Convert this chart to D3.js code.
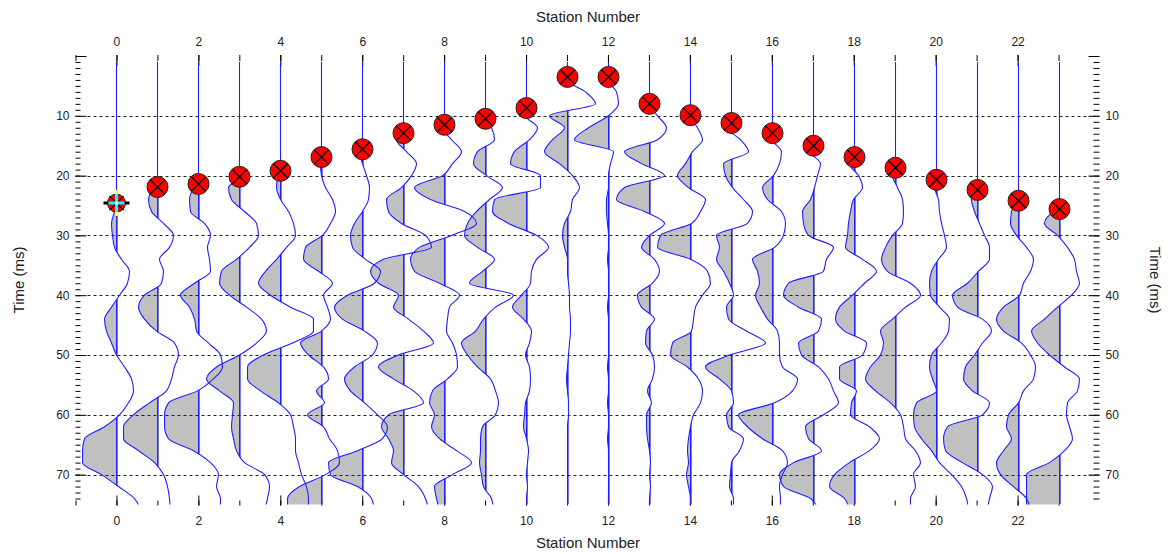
<!DOCTYPE html>
<html>
<head>
<meta charset="utf-8">
<script src="https://cdn.jsdelivr.net/npm/d3@7/dist/d3.min.js"></script>
<style>
  body { margin: 0; background: #fff; }
  text { font-family: "Liberation Sans", Arial, sans-serif; fill: #222; }
</style>
</head>
<body>
<div class="chart"></div>
<script>
// 台站编号, 初至拾取时间 (ms)
const stations = [0, 1, 2, 3, 4, 5, 6, 7, 8, 9, 10, 11, 12, 13, 14, 15, 16, 17, 18, 19, 20, 21, 22, 23]
const pickTimes = [24.6, 21.9, 21.4, 20.2, 19.2, 16.9, 15.6, 12.9, 11.5, 10.5, 8.7, 3.5,
  3.5, 8.0, 9.9, 11.2, 12.9, 15.0, 16.9, 18.7, 20.7, 22.4, 24.2, 25.6]
const activePick = 0

// 每道振幅, 从拾取后第一个偶数毫秒开始, 每 2 ms 一个样点 (±34 为削波)
const traceAmps = [
  [-2, -5, -4, -2, 5, 13, 11, 3, -5, -12, -10, -5, 0, 8, 15, 17, 12, 3, -12, -32, -34, -34, -15, 2, 18, 24],
  [-1, -9, -6, 6, 16, 12, 2, 6, 4, -13, -19, -13, -1, 17, 21, 17, 14, 9, -8, -24, -34, -34, -19, -3, 6, 10, 12, 13],
  [-4, -9, -8, 6, 12, 9, 11, 12, -4, -18, -9, -4, -2, 10, 22, 24, 15, -1, -30, -34, -34, -30, -5, 12, 20, 18, 22, 22],
  [-11, -8, 5, 17, 19, 10, -3, -18, -20, -10, 7, 22, 27, 17, 0, -23, -33, -20, -6, -7, -8, -6, -3, 5, 25, 30, 28, 25],
  [-2, -4, 0, 8, 13, 15, 6, -4, -15, -22, -10, 10, 33, 33, 12, -17, -33, -33, -20, -2, 10, 13, 15, 15, 18, 21, 26, 28, 28],
  [-1, 0, 4, 11, 14, 9, 1, -16, -18, -3, 11, 2, 6, 9, 0, -21, -13, 2, 7, -5, 3, -14, 2, 8, 16, 18, 4, -22, -34, -34],
  [-3, 0, 4, 7, 6, 0, -8, -12, -10, 3, 18, 12, -15, -28, -20, 2, 15, 10, -8, -18, -12, 2, 15, 25, 20, -5, -34, -32, -5, 9, 12],
  [-7, 3, 13, 8, -2, -17, -15, -2, 22, 28, -20, -33, -25, -5, -10, 5, 20, 30, -5, -25, -10, 10, 20, -15, -22, -15, -10, -12, 0, 15, 22, 25],
  [-2, 7, 17, 8, -2, -30, -14, 20, 32, 7, -25, -34, -30, -5, 15, 5, 3, 2, 8, 12, 13, 3, -12, -15, -10, -13, -5, 12, 27, 8, -10, -8, -5],
  [6, 9, -8, -12, 1, 17, 4, -9, -18, -21, -8, 9, -3, -16, 28, 10, -2, -10, -24, -18, -8, 5, 10, 13, 10, -3, -5, -5, -6, -4, -2, 6, 8],
  [-1, 11, 3, -12, -16, 14, 14, -32, -34, -18, 10, 22, 10, 5, 4, -5, -14, -3, 5, 3, -1, 3, 4, 3, -1, -2, -3, 0, 2, 1, 0, 1, 0, 0],
  [0, 18, 28, -18, -3, -15, -23, -8, 5, 12, 5, 3, -3, -5, -3, 0, 0, 1, 2, 2, 3, 3, 2, 1, 0, -1, 0, 1, 1, 0, 0, 0, 0, 0, 0, 0, 0],
  [0, 8, 10, 0, -20, -34, 5, 2, 0, 0, -2, -2, -1, 0, 0, -1, 0, 0, 0, -1, 0, 0, 0, 0, -1, 0, 0, -1, 0, 0, -1, 0, 0, 0, 0, 0, 0],
  [8, 17, 8, -25, -8, 15, -25, -33, -5, 15, 0, -8, 5, 10, 3, -12, -8, 5, -3, -4, 3, 5, 3, -2, 2, -3, -3, -2, 0, 1, 0, 1, 0, 0],
  [0, 7, 12, 2, -5, -13, -2, 15, 10, 1, -30, -33, 0, 17, 20, 12, 5, 3, 1, -18, -20, -3, 8, 12, 10, 3, 0, -2, -3, -2, -4, -2, 0, 0],
  [-4, 9, 17, -8, -6, 1, 12, 21, 16, -15, -12, -15, -8, -2, 2, -5, -3, 15, 34, -2, -26, -12, 0, 2, -5, -3, 12, 8, 0, -1, -2, 2, 2],
  [0, 9, 7, 1, -10, -5, 9, 13, 11, 2, -20, -15, -13, -17, -12, -5, 5, 7, 7, 10, 25, 20, 2, -34, -25, -10, 10, 15, 10, 7, 8, 8],
  [-3, 7, 4, 1, -3, -11, -10, -5, 20, 13, 10, -25, -30, -15, 8, 5, -15, -12, 5, 15, 20, 25, 10, -8, -5, 8, -20, -34, -30, -3, 5],
  [-5, 4, 8, -1, -4, -6, -7, -9, 8, 22, 10, -2, -15, -19, -10, 12, 8, -15, -15, 2, -3, -4, 15, 25, 15, -5, -20, -25, -10, -5],
  [-3, 2, 7, 8, 7, -3, -10, -14, -8, 15, 25, 10, -3, -15, -12, -15, -25, -30, -20, -5, 5, 8, 10, 20, 25, 18, 20, 15, 15],
  [-2, 2, 3, 5, 8, 10, 2, -5, -7, -6, 3, 13, 12, 5, -5, -7, -4, 0, -20, -23, -22, -15, -5, 3, 15, 25, 30, 32],
  [-6, -3, 2, 7, 12, 12, 1, -10, -25, -20, 5, 14, 5, -3, -12, -14, -5, 12, 5, -30, -34, -32, -15, 5, 15, 12, 10],
  [-7, -8, -2, 8, 15, 12, 5, 1, -15, -22, -15, 3, 12, 17, 15, 5, 0, -10, -12, -7, -15, -22, -18, -5, 8, 12],
  [-5, -15, -2, 8, 15, 17, 20, 12, -2, -15, -28, -22, -10, 5, 20, 18, 8, 7, 10, 13, 5, -10, -33, -33, -33, -33]
]

const stationTicks = [0, 2, 4, 6, 8, 10, 12, 14, 16, 18, 20, 22]
const timeTicks = [10, 20, 30, 40, 50, 60, 70]

const width = 1169
const height = 554
const plot = {left: 75.5, right: 1099.5, top: 56, bottom: 504.5}
const traceColor = '#1f1fff'

const svg = d3.select('.chart')
  .append('svg')
    .attr('width', width)
    .attr('height', height)

const x = d3.scaleLinear().domain([-1, 24]).range([plot.left, plot.right])
const y = d3.scaleLinear().domain([0, 75]).range([plot.top, plot.bottom])
const spacing = x(1) - x(0)
const amp = d3.scaleLinear().domain([-41, 41]).range([-spacing, spacing])
// 零线对齐到像素中心, 避免发虚
const base = s => Math.round(x(s)) + 0.5

svg.append('clipPath').attr('id', 'plot-clip')
  .append('rect')
    .attr('x', plot.left).attr('y', plot.top - 1)
    .attr('width', plot.right - plot.left).attr('height', plot.bottom - plot.top + 1)

// 坐标轴: 刻度朝内, 不画轴线
function styleAxis(g) {
  g.select('.domain').remove()
  g.selectAll('.tick line').attr('stroke', '#000')
  g.selectAll('.tick text').style('font-size', '12px').attr('fill', '#222')
}

const minorStations = d3.range(-1, 24)
const minorTimes = d3.range(1, 75)

svg.append('g').attr('transform', `translate(0, ${plot.top - 1})`)
  .call(d3.axisTop(x).tickValues(minorStations).tickSize(-6).tickFormat(''))
  .call(styleAxis)
svg.append('g').attr('transform', `translate(0, ${plot.top - 1})`)
  .call(d3.axisTop(x).tickValues(stationTicks).tickSize(-11).tickPadding(9))
  .call(styleAxis)

svg.append('g').attr('transform', `translate(0, ${plot.bottom + 1})`)
  .call(d3.axisBottom(x).tickValues(minorStations).tickSize(-5).tickFormat(''))
  .call(styleAxis)
svg.append('g').attr('transform', `translate(0, ${plot.bottom + 1})`)
  .call(d3.axisBottom(x).tickValues(stationTicks).tickSize(-10).tickPadding(11))
  .call(styleAxis)

svg.append('g').attr('transform', `translate(${plot.left}, 0)`)
  .call(d3.axisLeft(y).tickValues(minorTimes).tickSize(-5).tickFormat(''))
  .call(styleAxis)
svg.append('g').attr('transform', `translate(${plot.left}, 0)`)
  .call(d3.axisLeft(y).tickValues([0].concat(timeTicks)).tickSize(-11).tickPadding(6)
    .tickFormat(d => d === 0 ? '' : d))
  .call(styleAxis)

svg.append('g').attr('transform', `translate(${plot.right}, 0)`)
  .call(d3.axisRight(y).tickValues(minorTimes).tickSize(-6).tickFormat(''))
  .call(styleAxis)
svg.append('g').attr('transform', `translate(${plot.right}, 0)`)
  .call(d3.axisRight(y).tickValues([0].concat(timeTicks)).tickSize(-11).tickPadding(6)
    .tickFormat(d => d === 0 ? '' : d))
  .call(styleAxis)

// 标题
svg.append('text').attr('x', 588).attr('y', 22).attr('text-anchor', 'middle')
  .style('font-size', '15px').text('Station Number')
svg.append('text').attr('x', 588).attr('y', 548).attr('text-anchor', 'middle')
  .style('font-size', '15px').text('Station Number')
svg.append('text').attr('transform', 'translate(24, 280) rotate(-90)').attr('text-anchor', 'middle')
  .style('font-size', '15px').text('Time (ms)')
svg.append('text').attr('transform', 'translate(1150, 280) rotate(90)').attr('text-anchor', 'middle')
  .style('font-size', '15px').text('Time (ms)')

// 波形: 先画负半周填充, 再画虚线网格, 最后画波形线
const fillLayer = svg.append('g').attr('clip-path', 'url(#plot-clip)')
const gridLayer = svg.append('g')
const lineLayer = svg.append('g').attr('clip-path', 'url(#plot-clip)')

stations.forEach((s, i) => {
  const b = base(s)
  const t0 = Math.floor(pickTimes[i] / 2) * 2 + 2
  const pts = [{t: 1, a: 0}, {t: pickTimes[i], a: 0}]
  traceAmps[i].forEach((a, k) => pts.push({t: t0 + 2 * k, a: a}))

  const area = d3.area()
    .curve(d3.curveMonotoneY)
    .y(d => y(d.t))
    .x0(b + 1.5)
    .x1(d => b + amp(d.a))
  const line = d3.line()
    .curve(d3.curveMonotoneY)
    .x(d => b + amp(d.a))
    .y(d => y(d.t))

  svg.append('clipPath').attr('id', `left-${i}`)
    .append('rect')
      .attr('x', b - 60).attr('y', plot.top)
      .attr('width', 60).attr('height', plot.bottom - plot.top)
  svg.append('clipPath').attr('id', `lobe-${i}`)
    .append('path').attr('d', area(pts))

  fillLayer.append('path')
    .attr('d', area(pts))
    .attr('clip-path', `url(#left-${i})`)
    .attr('fill', '#c0c0c0')

  // 负半周里的零线 (只落在左侧填充里)
  fillLayer.append('rect')
    .attr('x', b - 0.5).attr('width', 1.6)
    .attr('y', y(pickTimes[i])).attr('height', plot.bottom - y(pickTimes[i]))
    .attr('clip-path', `url(#lobe-${i})`)
    .attr('fill', traceColor)

  lineLayer.append('path')
    .attr('d', line(pts))
    .attr('fill', 'none')
    .attr('stroke', traceColor)
    .attr('stroke-width', 1.1)
})

gridLayer.selectAll('line')
  .data(timeTicks)
  .enter()
  .append('line')
    .attr('x1', plot.left).attr('x2', plot.right)
    .attr('y1', d => Math.round(y(d)) + 0.5).attr('y2', d => Math.round(y(d)) + 0.5)
    .attr('stroke', '#222')
    .attr('stroke-dasharray', '3,3')

// 初至拾取点
const picks = svg.selectAll('.pick')
  .data(stations)
  .enter()
  .append('g')
    .attr('class', 'pick')
    .attr('transform', (s, i) => `translate(${base(s)}, ${y(pickTimes[i])})`)

picks.filter((s, i) => i !== activePick).each(function () {
  const g = d3.select(this)
  g.append('circle').attr('r', 10.5).attr('fill', '#f00').attr('stroke', '#222').attr('stroke-width', 1)
  g.append('path').attr('d', 'M-7,-7L7,7M-7,7L7,-7').attr('stroke', '#000').attr('stroke-width', 1.3)
})

picks.filter((s, i) => i === activePick).each(function () {
  const g = d3.select(this)
  g.append('circle').attr('r', 9).attr('fill', '#f00').attr('stroke', '#222').attr('stroke-width', 1)
  g.append('path').attr('d', 'M-7,-7L7,7M-7,7L7,-7').attr('stroke', '#000').attr('stroke-width', 1.2)
  g.append('path').attr('d', 'M-13,0H-8M8,0H13').attr('stroke', '#000').attr('stroke-width', 3)
  g.append('path').attr('d', 'M0,-13V-9M0,9V13').attr('stroke', '#ff0').attr('stroke-width', 3)
  g.append('path').attr('d', 'M-8,0H8M0,-9V9').attr('stroke', '#0ff').attr('stroke-width', 3)
  g.append('circle').attr('r', 1.5).attr('fill', '#fff')
})
</script>
</body>
</html>
